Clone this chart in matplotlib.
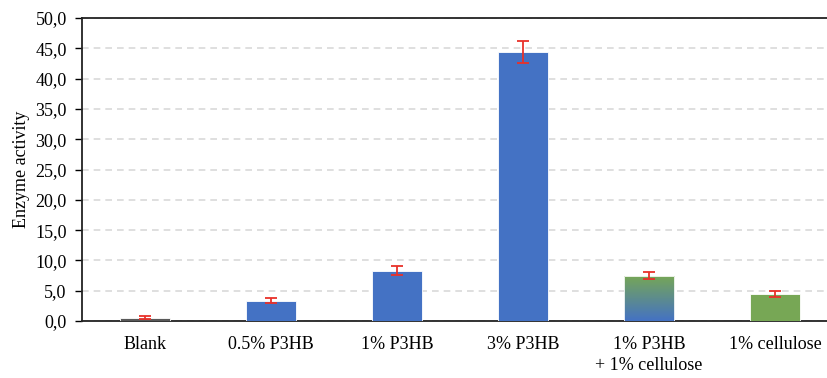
import numpy as np
import matplotlib
matplotlib.use("Agg")
import matplotlib.pyplot as plt
from matplotlib.colors import LinearSegmentedColormap

categories = ["Blank", "0.5% P3HB", "1% P3HB", "3% P3HB", "1% P3HB\n+ 1% cellulose", "1% cellulose"]
activity = [0.55, 3.35, 8.3, 44.4, 7.5, 4.45]
errors = [0.25, 0.4, 0.7, 1.75, 0.6, 0.45]
y_ticks = [0, 5, 10, 15, 20, 25, 30, 35, 40, 45, 50]

BLUE = "#4472C4"
GREEN = "#77A755"
GRAY = "#595959"
bar_colors = [GRAY, BLUE, BLUE, BLUE, None, GREEN]

plt.rcParams["font.family"] = ["Liberation Serif", "DejaVu Serif"]
FS = 13

fig = plt.figure(figsize=(8.27, 3.78), dpi=100)
ax = fig.add_axes([82 / 827, 57 / 378, 756 / 827, 303 / 378])

x = np.arange(len(categories))
width = 0.4
bars = ax.bar(x, activity, width=width, color=[c if c else "none" for c in bar_colors],
              edgecolor="white", linewidth=0.6, zorder=3)

# gradient fill (blue at the base, green at the top) for the mixed substrate bar
grad_idx = 4
gb = bars[grad_idx]
cmap = LinearSegmentedColormap.from_list("bg", [BLUE, GREEN])
grad = np.linspace(0, 1, 256).reshape(-1, 1)
im = ax.imshow(grad, cmap=cmap, origin="lower", aspect="auto",
               extent=[gb.get_x(), gb.get_x() + gb.get_width(), 0, gb.get_height()],
               zorder=2.9)
im.set_clip_path(gb)

ax.errorbar(x, activity, yerr=errors, fmt="none", ecolor="#E8312A",
            elinewidth=1.3, capsize=4, capthick=1.3, zorder=4)

ax.set_xlim(-0.5, len(categories) - 0.5)
ax.set_ylim(0, 50)
ax.set_yticks(y_ticks)
ax.set_yticklabels([f"{v:.1f}".replace(".", ",") for v in y_ticks], fontsize=FS)
ax.set_xticks(x)
ax.set_xticklabels(categories, fontsize=FS, linespacing=1.3)
ax.tick_params(axis="x", length=0, pad=11)
ax.tick_params(axis="y", length=5, width=1, direction="out", pad=6)
ax.set_ylabel("Enzyme activity", fontsize=FS, labelpad=4)

ax.yaxis.grid(True, color="#D9D9D9", linestyle=(0, (4, 3)), linewidth=1.2, zorder=0)
ax.set_axisbelow(True)

for side in ["left", "top", "bottom"]:
    ax.spines[side].set_color("#222222")
    ax.spines[side].set_linewidth(1.3)
ax.spines["right"].set_visible(False)

fig.savefig("out.png", dpi=100)
